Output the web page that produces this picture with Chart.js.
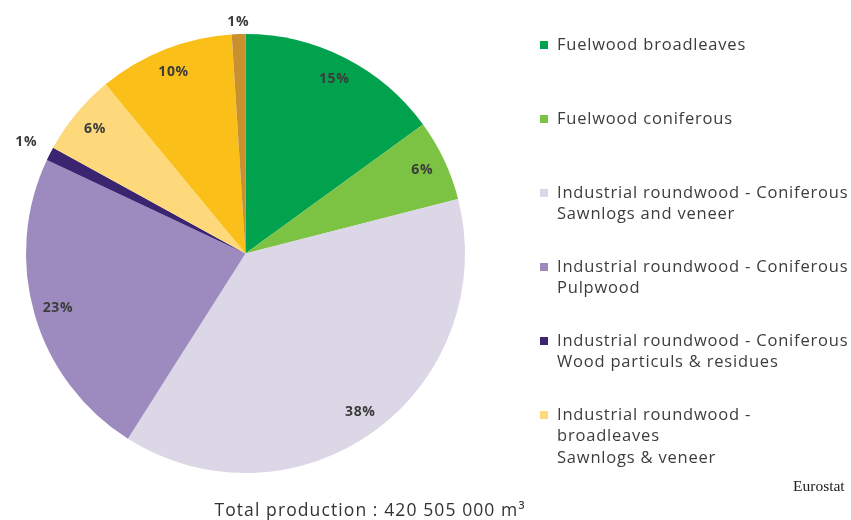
<!DOCTYPE html>
<html>
<head>
<meta charset="utf-8">
<title>Roundwood production</title>
<script src="https://cdn.jsdelivr.net/npm/chart.js@4"></script>
<style>
  html, body { margin: 0; padding: 0; background: #fff; }
  #wood { display: block; }
</style>
</head>
<body>
<canvas id="wood" width="851" height="520"></canvas>
<script>
const categories = [
  'Fuelwood broadleaves',
  'Fuelwood coniferous',
  'Industrial roundwood - Coniferous Sawnlogs and veneer',
  'Industrial roundwood - Coniferous Pulpwood',
  'Industrial roundwood - Coniferous Wood particuls & residues',
  'Industrial roundwood - broadleaves Sawnlogs & veneer',
  'Industrial roundwood - broadleaves Pulpwood',
  'Industrial roundwood - broadleaves Wood particuls & residues'
];
// legend text, one entry per line
const legendLines = [
  ['Fuelwood broadleaves'],
  ['Fuelwood coniferous'],
  ['Industrial roundwood - Coniferous', 'Sawnlogs and veneer'],
  ['Industrial roundwood - Coniferous', 'Pulpwood'],
  ['Industrial roundwood - Coniferous', 'Wood particuls & residues'],
  ['Industrial roundwood -', 'broadleaves', 'Sawnlogs & veneer']
];
const shares = [15, 6, 38, 23, 1, 6, 10, 1];
const colours = ['#00a24e', '#7cc243', '#dcd7e6', '#9d8bbf', '#3b2570', '#fdd97c', '#fbbf19', '#c8902f'];
const totalText = 'Total production : 420 505 000 m³';
const sourceText = 'Eurostat';

const FONT = '"Open Sans", sans-serif';

const extras = {
  id: 'extras',
  afterDraw(chart) {
    const c = chart.ctx;
    const meta = chart.getDatasetMeta(0);
    c.save();

    // percentage labels, small slices get theirs outside the rim
    c.font = '700 14px ' + FONT;
    c.letterSpacing = '0.6px';
    c.fillStyle = '#3c3c3c';
    c.textAlign = 'center';
    c.textBaseline = 'middle';
    meta.data.forEach((arc, i) => {
      const p = arc.getProps(['x', 'y', 'startAngle', 'endAngle', 'outerRadius'], true);
      const mid = (p.startAngle + p.endAngle) / 2;
      const txt = shares[i] + '%';
      let r;
      if (shares[i] >= 2) {
        r = p.outerRadius * 0.89;
      } else {
        const w = c.measureText(txt).width;
        r = p.outerRadius + 4 + Math.abs(Math.cos(mid)) * w + Math.abs(Math.sin(mid)) * 7;
      }
      c.fillText(txt, p.x + Math.cos(mid) * r, p.y + Math.sin(mid) * r);
    });

    // legend on the right
    c.font = '16.5px ' + FONT;
    c.letterSpacing = '0.8px';
    c.textAlign = 'left';
    legendLines.forEach((lines, i) => {
      const y0 = 45 + i * 74;
      c.fillStyle = colours[i];
      c.fillRect(540, y0 - 4, 8, 8);
      c.fillStyle = '#3c3c3c';
      lines.forEach((ln, j) => c.fillText(ln, 557, y0 + j * 21.5));
    });

    // total below the pie
    c.font = '17.5px ' + FONT;
    c.letterSpacing = '1.1px';
    c.fillStyle = '#333';
    c.textAlign = 'center';
    c.fillText(totalText, 370, 511);

    c.font = '15.5px "Liberation Serif", serif';
    c.letterSpacing = '0px';
    c.textAlign = 'left';
    c.fillStyle = '#222';
    c.fillText(sourceText, 793, 487);
    c.restore();
  }
};

new Chart(document.getElementById('wood'), {
  type: 'pie',
  data: {
    labels: categories,
    datasets: [{
      data: shares,
      backgroundColor: colours,
      borderWidth: 0
    }]
  },
  options: {
    responsive: false,
    animation: false,
    layout: {
      padding: { left: 25, top: 34, right: 385, bottom: 47 }
    },
    plugins: {
      legend: { display: false },
      tooltip: { enabled: false }
    }
  },
  plugins: [extras]
});
</script>
</body>
</html>
